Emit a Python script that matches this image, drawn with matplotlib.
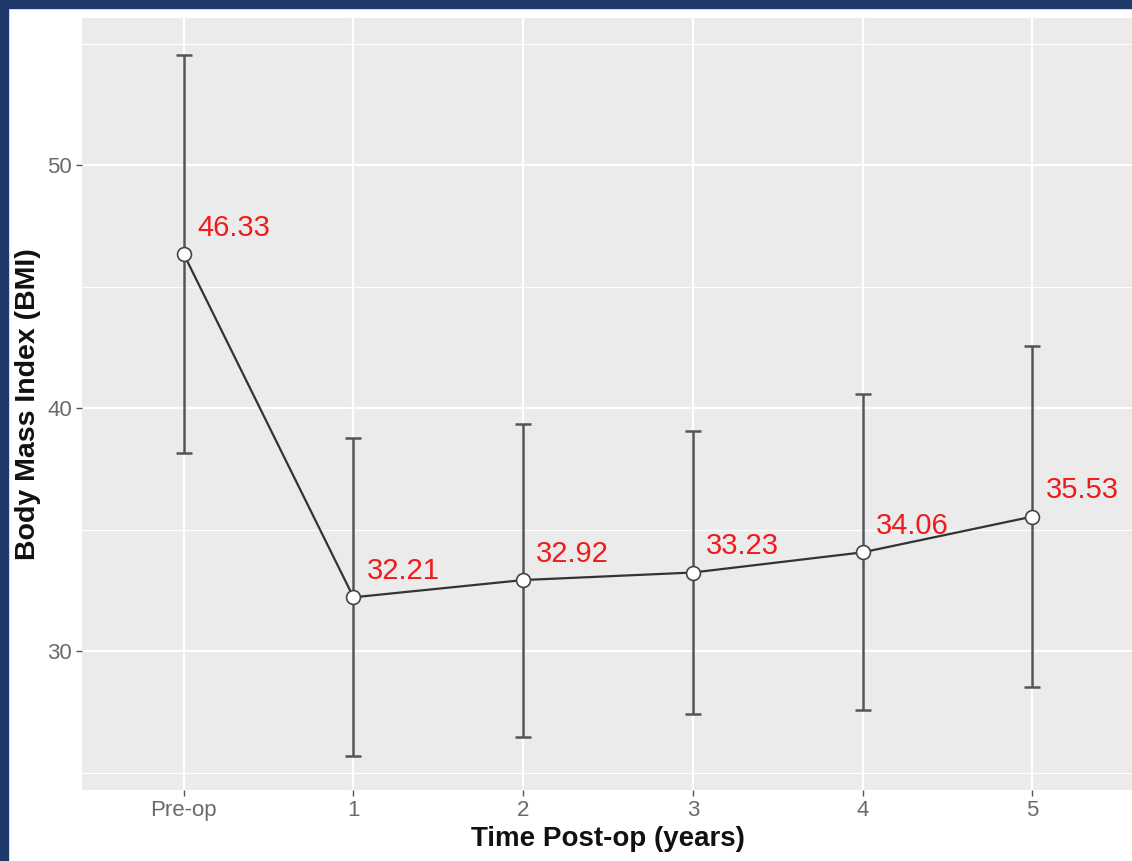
import matplotlib
matplotlib.use("Agg")
import matplotlib.pyplot as plt
from matplotlib.patches import Rectangle

# BMI over time after surgery: mean and standard deviation
timepoints = ["Pre-op", "1", "2", "3", "4", "5"]
bmi_mean = [46.33, 32.21, 32.92, 33.23, 34.06, 35.53]
bmi_sd = [8.20, 6.55, 6.44, 5.84, 6.50, 7.02]

plt.rcParams["font.family"] = ["Liberation Sans", "DejaVu Sans"]

W, H, DPI = 1132, 861, 100
fig = plt.figure(figsize=(W / DPI, H / DPI), dpi=DPI)
fig.patch.set_facecolor("white")

# dark blue frame along the top and left edges
frame = "#1d3a6b"
fig.patches.append(Rectangle((0, 0), 8 / W, 1, transform=fig.transFigure,
                             color=frame, zorder=10))
fig.patches.append(Rectangle((0, 1 - 8 / H), 1, 8 / H, transform=fig.transFigure,
                             color=frame, zorder=10))

left, right, top, bottom = 82, 1134, 18, 790
ax = fig.add_axes([left / W, 1 - bottom / H, (right - left) / W, (bottom - top) / H])
ax.set_facecolor("#ebebeb")
for s in ax.spines.values():
    s.set_visible(False)

x = list(range(len(timepoints)))
ax.set_xlim(-0.6, len(timepoints) - 0.4)
ax.set_ylim(24.28, 56.05)

# ggplot-style grid
ax.set_yticks([30, 40, 50])
ax.set_yticks([25, 35, 45, 55], minor=True)
ax.set_xticks(x)
ax.set_xticklabels(timepoints)
ax.grid(which="major", color="white", linewidth=1.6)
ax.grid(which="minor", axis="y", color="white", linewidth=0.8)
ax.set_axisbelow(True)
ax.tick_params(which="minor", length=0)
ax.tick_params(which="major", length=4, width=1.0, color="#555555",
               labelcolor="#6a6a6a", labelsize=16, pad=3)

ax.errorbar(x, bmi_mean, yerr=bmi_sd, fmt="none", ecolor="#555555",
            elinewidth=1.8, capsize=5.8, capthick=1.8, zorder=2)
ax.plot(x, bmi_mean, color="#333333", linewidth=1.6, zorder=3)
ax.plot(x, bmi_mean, linestyle="none", marker="o", markersize=10,
        markerfacecolor="white", markeredgecolor="#444444",
        markeredgewidth=1.2, zorder=4)

for xi, yi in zip(x, bmi_mean):
    ax.annotate(f"{yi:.2f}", (xi, yi), xytext=(9.5, 19), textcoords="offset points",
                color="#ee1c1c", fontsize=21, ha="left", va="center")

ax.set_xlabel("Time Post-op (years)", fontsize=20, fontweight="bold",
              color="#111111", labelpad=4)
ax.set_ylabel("Body Mass Index (BMI)", fontsize=20.5, fontweight="bold",
              color="#111111", labelpad=5)

fig.savefig("out.png", dpi=DPI, facecolor="white")
